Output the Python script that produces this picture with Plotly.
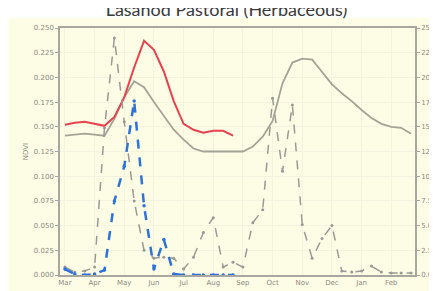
import plotly.graph_objects as go

months = ["Mar", "Apr", "May", "Jun", "Jul", "Aug", "Sep", "Oct", "Nov", "Dec", "Jan", "Feb"]
dekads = list(range(36))

ndvi_current = [0.152, 0.154, 0.155, 0.153, 0.151, 0.160, 0.180, 0.210, 0.237, 0.228,
                0.206, 0.176, 0.153, 0.147, 0.144, 0.146, 0.146, 0.141]
ndvi_mean = [0.141, 0.142, 0.143, 0.142, 0.141, 0.158, 0.180, 0.196, 0.190, 0.175,
             0.161, 0.147, 0.137, 0.128, 0.125, 0.125, 0.125, 0.125, 0.125, 0.130,
             0.140, 0.156, 0.194, 0.215, 0.219, 0.218, 0.205, 0.193, 0.184, 0.176,
             0.167, 0.159, 0.153, 0.150, 0.149, 0.143]
rain_mean = [0.8, 0.3, 0.4, 0.8, 14.9, 24.0, 15.5, 7.5, 2.5, 1.7,
             1.8, 1.7, 0.6, 1.8, 4.3, 5.8, 0.8, 1.3, 0.8, 5.3,
             6.6, 17.9, 10.5, 17.2, 5.1, 1.7, 3.7, 5.0, 0.4, 0.3,
             0.4, 0.9, 0.3, 0.2, 0.2, 0.2]
rain_current = [0.6, 0.1, 0.0, 0.1, 0.5, 7.5, 11.0, 17.6, 7.0, 0.6,
                3.6, 0.1, 0.0, 0.0, 0.0, 0.0, 0.0, 0.0]

left_ticks = [0.000, 0.025, 0.050, 0.075, 0.100, 0.125, 0.150, 0.175, 0.200, 0.225, 0.250]
right_ticks = [0.0, 2.5, 5.0, 7.5, 10.0, 12.5, 15.0, 17.5, 20.0, 22.5, 25.0]

tick_font = dict(family="DejaVu Sans", size=7, color="#8a8a80")

fig = go.Figure()
fig.add_trace(go.Scatter(x=dekads, y=ndvi_mean, mode="lines",
                         line=dict(color="#a4a496", width=1.8), yaxis="y"))
fig.add_trace(go.Scatter(x=dekads[:len(ndvi_current)], y=ndvi_current, mode="lines",
                         line=dict(color="#e8434f", width=2), yaxis="y"))
fig.add_trace(go.Scatter(x=dekads, y=rain_mean, mode="lines+markers",
                         line=dict(color="#9a9a94", width=1.5, dash="dash"),
                         marker=dict(size=3, color="#9a9a94"), yaxis="y2"))
fig.add_trace(go.Scatter(x=dekads[:len(rain_current)], y=rain_current, mode="lines+markers",
                         line=dict(color="#2f72d8", width=2.5, dash="dash"),
                         marker=dict(size=3.5, color="#2f72d8"), yaxis="y2"))

fig.update_layout(
    width=437, height=291,
    margin=dict(l=52, r=30, t=20, b=24, autoexpand=False),
    paper_bgcolor="white",
    plot_bgcolor="#fefee9",
    showlegend=False,
    title=dict(text="Lasanod Pastoral (Herbaceous)", x=0.5, xanchor="center",
               yref="container", y=0.995, yanchor="middle",
               font=dict(family="Lato", size=18, color="#3a3a3a")),
    xaxis=dict(range=[-0.5, 35.4], tickvals=[3 * k for k in range(12)], ticktext=months,
               showgrid=True, gridcolor="#f3f3df", zeroline=False, automargin=False,
               showline=True, linecolor="#a8a8a0", linewidth=1.5, mirror=True,
               ticks="", tickfont=tick_font),
    yaxis=dict(range=[0, 0.25], tickvals=left_ticks, ticktext=[f"{v:.3f}" for v in left_ticks],
               showgrid=True, gridcolor="#f3f3df", zeroline=False, automargin=False,
               showline=True, linecolor="#a8a8a0", linewidth=1.5,
               ticks="outside", ticklen=3, tickcolor="#a8a8a0", tickfont=tick_font,
               title=dict(text="NDVI", font=dict(family="DejaVu Sans", size=7, color="#8a8a80"), standoff=4)),
    yaxis2=dict(range=[0, 25], tickvals=right_ticks, ticktext=[f"{v:.1f}" for v in right_ticks],
                overlaying="y", side="right", showgrid=False, zeroline=False, automargin=False,
                showline=True, linecolor="#a8a8a0", linewidth=1.5,
                ticks="outside", ticklen=3, tickcolor="#a8a8a0", tickfont=tick_font),
    shapes=[dict(type="rect", xref="paper", yref="paper", x0=-0.145, x1=1.2, y0=-0.2, y1=1.04,
                 fillcolor="#fdfde6", line=dict(width=0), layer="below")],
)

fig.write_html("out.html")
